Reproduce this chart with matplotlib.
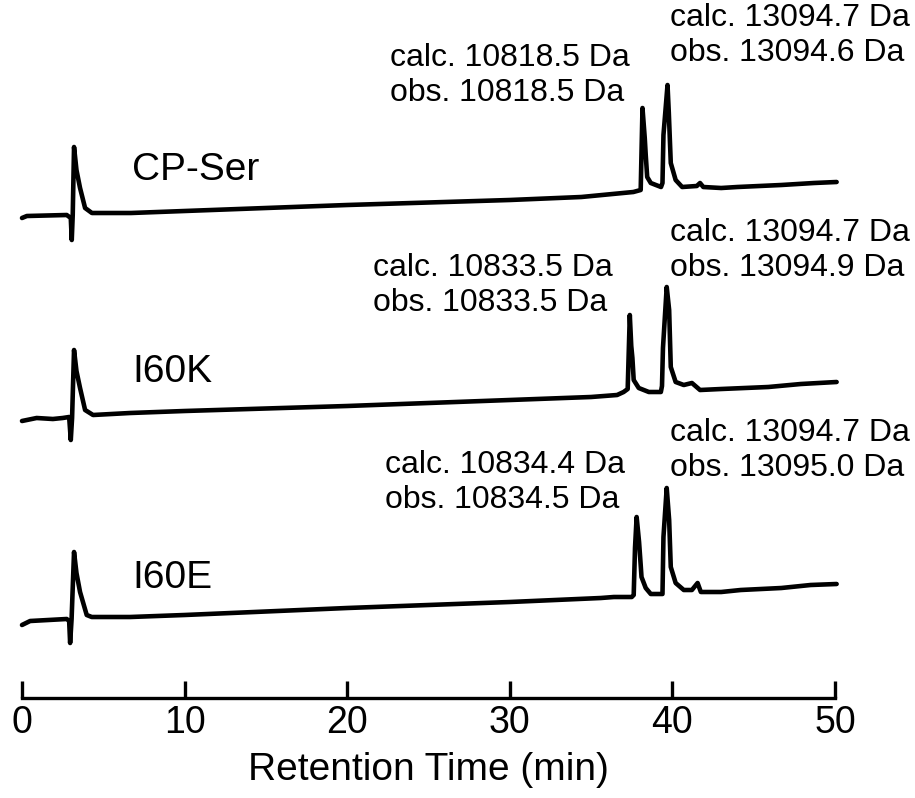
import matplotlib
matplotlib.use("Agg")
import matplotlib.pyplot as plt
import numpy as np

plt.rcParams['font.family'] = ['Liberation Sans', 'DejaVu Sans']

# ---- data (retention time in min, absorbance in arbitrary units above each trace's start) ----
t_cpser = [0, 0.3, 2.75, 3.0, 3.06, 3.12, 3.2, 3.35, 3.57, 3.88, 4.3, 6.7, 10, 20, 30, 34.4,
           37.6, 38.05, 38.16, 38.3, 38.36, 38.45, 38.67, 39.3, 39.39, 39.45, 39.7, 39.78,
           39.9, 40.2, 40.6, 41.5, 41.7, 41.9, 43, 44, 46.7, 48.7, 50.1]
a_cpser = [0, 2, 3, 0, -22, 3, 71, 48, 30, 10, 5, 5, 7, 13, 18, 21,
           26, 28, 110, 80, 63, 41, 35, 31, 35, 83, 133, 105,
           55, 38, 31, 32, 35, 31, 30, 31, 33, 35, 36]

t_i60k = [0, 0.9, 1.9, 2.5, 2.9, 3.0, 3.08, 3.2, 3.35, 3.57, 3.88, 4.37, 6.65, 10, 20, 30, 35,
          36.6, 37.0, 37.25, 37.38, 37.47, 37.54, 37.62, 37.93, 38.55, 39.29, 39.36, 39.42,
          39.65, 39.8, 39.9, 40.2, 40.7, 41.2, 41.7, 43, 45.9, 47.9, 50.1]
a_i60k = [0, 3, 2, 3, 4, -19, 3, 71, 50, 33, 11, 6, 8, 10, 15, 21, 24,
          26, 29, 32, 106, 75, 63, 41, 33, 29, 29, 35, 73,
          134, 111, 54, 39, 36, 38, 31, 32, 34, 37, 39]

t_i60e = [0, 0.5, 2.75, 2.9, 2.96, 3.05, 3.2, 3.35, 3.57, 3.98, 4.29, 6.65, 10, 20, 30, 35.6,
          36.4, 37.5, 37.62, 37.7, 37.8, 37.95, 38.05, 38.1, 38.36, 38.67, 39.39, 39.45,
          39.65, 39.8, 39.9, 40.2, 40.7, 41.2, 41.55, 41.75, 43, 44.2, 46.7, 48.5, 50.1]
a_i60e = [0, 4, 6, 4, -18, 6, 73, 52, 33, 10, 8, 8, 10, 17, 23, 27,
          28, 28, 30, 77, 108, 83, 60, 48, 37, 31, 31, 88,
          137, 105, 58, 42, 35, 35, 42, 33, 33, 35, 37, 40, 41]

samples = ["CP-Ser", "I60K", "I60E"]
calc_1 = ["10818.5", "10833.5", "10834.4"]
obs_1 = ["10818.5", "10833.5", "10834.5"]
calc_2 = ["13094.7", "13094.7", "13094.7"]
obs_2 = ["13094.6", "13094.9", "13095.0"]

xticks = [0, 10, 20, 30, 40, 50]

# ---- layout ----
W, H = 915, 798
fig = plt.figure(figsize=(W / 100, H / 100), dpi=100)
ax_left, ax_right, ax_bottom_px = 22, 835, 698
ax = fig.add_axes([ax_left / W, (H - ax_bottom_px) / H, (ax_right - ax_left) / W, ax_bottom_px / H])
ax.set_xlim(0, 50)
ax.set_ylim(0, ax_bottom_px)

offsets = [480, 277, 73]
traces = [(t_cpser, a_cpser), (t_i60k, a_i60k), (t_i60e, a_i60e)]
for (t, a), off in zip(traces, offsets):
    ax.plot(t, np.array(a) + off, color='black', lw=3.3, solid_joinstyle='round',
            solid_capstyle='round', clip_on=False)

for s in ['left', 'right', 'top']:
    ax.spines[s].set_visible(False)
ax.spines['bottom'].set_linewidth(2.4)
ax.set_yticks([])
ax.set_xticks(xticks)
ax.set_xticklabels([str(v) for v in xticks])
ax.tick_params(axis='x', direction='in', length=12, width=2.4, pad=5, labelsize=27)
ax.set_xlabel("Retention Time (min)", fontsize=28, labelpad=8)

def ftext(x, y, s, **kw):
    fig.text(x / W, 1 - y / H, s, va='center', ha='left', **kw)

label_y = [170, 372, 578]
for name, y in zip(samples, label_y):
    ftext(132, y, name, fontsize=28)

ann1 = [(390, 58), (373, 268), (385, 465)]
ann2 = [(670, 18), (670, 233), (670, 433)]
for i in range(3):
    x, y = ann1[i]
    ftext(x, y, f"calc. {calc_1[i]} Da", fontsize=23)
    ftext(x, y + 35, f"obs. {obs_1[i]} Da", fontsize=23)
    x, y = ann2[i]
    ftext(x, y, f"calc. {calc_2[i]} Da", fontsize=23)
    ftext(x, y + 35, f"obs. {obs_2[i]} Da", fontsize=23)

fig.savefig("out.png", dpi=100)
